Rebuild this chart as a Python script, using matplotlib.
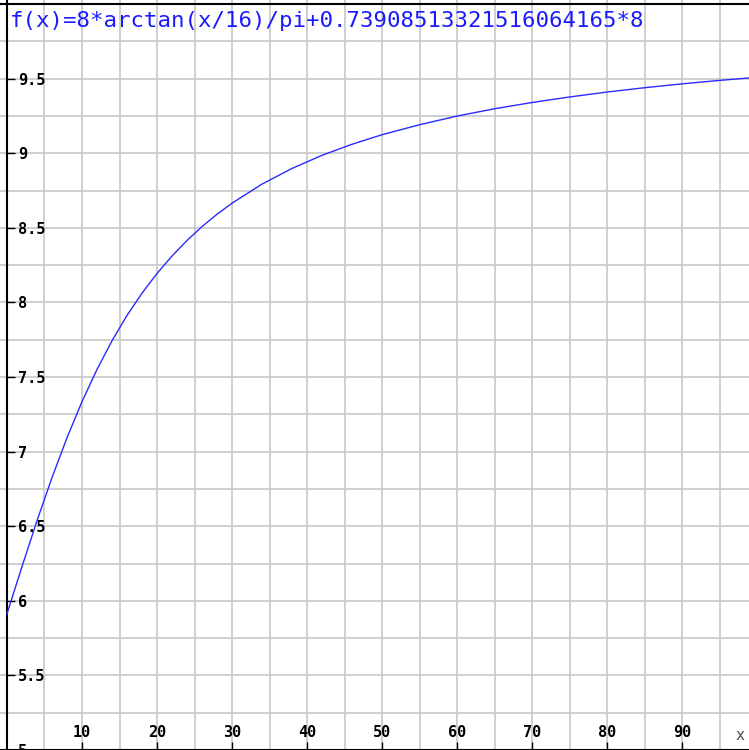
import matplotlib
matplotlib.use("Agg")
import matplotlib.pyplot as plt

# values
x_vals = [0, 2, 4, 6, 8, 10, 12, 14, 16, 18, 20, 22, 24, 26, 28, 30,
          34, 38, 42, 46, 50, 55, 60, 65, 70, 75, 80, 85, 90, 95, 99]
y_vals = [5.913, 6.229, 6.537, 6.826, 7.093, 7.335, 7.551, 7.743, 7.913,
          8.062, 8.194, 8.311, 8.415, 8.508, 8.591, 8.665, 8.793, 8.898,
          8.986, 9.060, 9.124, 9.191, 9.249, 9.298, 9.340, 9.377, 9.410,
          9.439, 9.465, 9.488, 9.505]

x_ticks = [10, 20, 30, 40, 50, 60, 70, 80, 90]
x_tick_labels = ["10", "20", "30", "40", "50", "60", "70", "80", "90"]
y_ticks = [5, 5.5, 6, 6.5, 7, 7.5, 8, 8.5, 9, 9.5]
y_tick_labels = ["5", "5.5", "6", "6.5", "7", "7.5", "8", "8.5", "9", "9.5"]
x_grid = [5 * i for i in range(1, 20)]
y_grid = [5 + 0.25 * i for i in range(1, 20)]

title = "f(x)=8*arctan(x/16)/pi+0.73908513321516064165*8"

fig = plt.figure(figsize=(7.49, 7.5), dpi=100)
ax = fig.add_axes([0, 0, 1, 1])
ax.set_xlim(-0.933, 98.93)
ax.set_ylim(5.021, 10.027)

for gx in x_grid:
    ax.axvline(gx, color="#cbcbcb", lw=1.3, zorder=0)
for gy in y_grid:
    ax.axhline(gy, color="#cbcbcb", lw=1.3, zorder=0)
ax.axhline(10, color="black", lw=1.5, zorder=1)

ax.plot(x_vals, y_vals, color="#2a2aff", lw=1.0, zorder=3)

for side in ("top", "right"):
    ax.spines[side].set_visible(False)
ax.spines["left"].set_position(("data", 0))
ax.spines["bottom"].set_position(("data", 5))
ax.spines["left"].set_linewidth(1.5)
ax.spines["bottom"].set_linewidth(1.5)

ax.set_xticks(x_ticks, x_tick_labels)
ax.set_yticks(y_ticks, y_tick_labels)
ax.tick_params(axis="both", direction="in", length=5.8, width=1.0,
               labelsize=11, colors="black")
ax.tick_params(axis="y", pad=-8)
ax.tick_params(axis="x", pad=-12.5)
for lab in ax.get_yticklabels():
    lab.set_horizontalalignment("left")
    lab.set_family("DejaVu Sans Mono")
    lab.set_weight("bold")
for lab in ax.get_xticklabels():
    lab.set_verticalalignment("center")
    lab.set_family("DejaVu Sans Mono")
    lab.set_weight("bold")

ax.text(0.013, 0.972, title, transform=ax.transAxes, family="DejaVu Sans Mono",
        fontsize=16.1, color="#1a1aff", ha="left", va="center")
ax.text(0.988, 0.019, "x", transform=ax.transAxes, family="DejaVu Sans",
        fontsize=11, color="#555555", ha="center", va="center")

fig.savefig("out.png", dpi=100)
